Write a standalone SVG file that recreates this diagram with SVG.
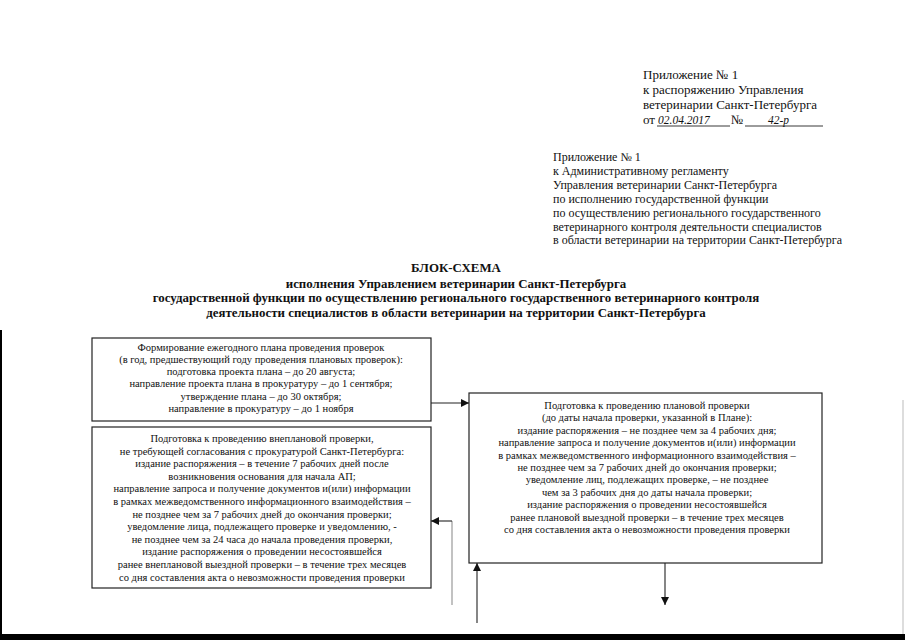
<svg xmlns="http://www.w3.org/2000/svg" width="905" height="640" viewBox="0 0 905 640">
<defs>
<style>
text{font-family:"Liberation Serif","Times New Roman",serif;fill:#111}
.h{font-size:13px}
.h2{font-size:12px}
.t{font-size:12.9px;font-weight:bold;text-anchor:middle}
.b{font-size:10.5px;text-anchor:middle}
.box{fill:#fff;stroke:#222;stroke-width:1.2}
.c{stroke:#222;stroke-width:1.1;fill:none}
.g{stroke:#999;stroke-width:1.2;fill:none}
.hw{font-family:"Liberation Serif",serif;font-style:italic;font-size:11.5px}
</style>
<marker id="ah" viewBox="0 0 10 10" refX="10" refY="5" markerWidth="8" markerHeight="8" markerUnits="userSpaceOnUse" orient="auto">
<path d="M0,0 L10,5 L0,10 z" fill="#111"/>
</marker>
</defs>
<rect width="905" height="640" fill="#fff"/>
<rect x="0" y="634" width="905" height="6" fill="#000"/>
<line x1="1" y1="330" x2="1" y2="640" stroke="#000" stroke-width="2"/>
<line x1="903" y1="400" x2="903" y2="634" stroke="#bbb" stroke-width="1"/>

<g id="header1">
<text class="h" x="643" y="79">Приложение № 1</text>
<text class="h" x="643" y="94">к распоряжению Управления</text>
<text class="h" x="643" y="109">ветеринарии Санкт-Петербурга</text>
<text class="h" x="643" y="124">от</text>
<text class="hw" x="658" y="124">02.04.2017</text>
<text class="h" x="731" y="124">№</text>
<text class="hw" x="768" y="124">42-р</text>
<line x1="657" y1="126" x2="730" y2="126" stroke="#222" stroke-width="0.9"/>
<line x1="745" y1="126" x2="823" y2="126" stroke="#222" stroke-width="0.9"/>
</g>

<g id="header2">
<text class="h2" x="553" y="161">Приложение № 1</text>
<text class="h2" x="553" y="175">к Административному регламенту</text>
<text class="h2" x="553" y="189">Управления ветеринарии Санкт-Петербурга</text>
<text class="h2" x="553" y="203">по исполнению государственной функции</text>
<text class="h2" x="553" y="217">по осуществлению регионального государственного</text>
<text class="h2" x="553" y="231">ветеринарного контроля деятельности специалистов</text>
<text class="h2" x="553" y="244">в области ветеринарии на территории Санкт-Петербурга</text>
</g>

<g id="title">
<text class="t" x="456" y="272">БЛОК-СХЕМА</text>
<text class="t" x="456" y="288">исполнения Управлением ветеринарии Санкт-Петербурга</text>
<text class="t" x="456" y="302">государственной функции по осуществлению регионального государственного ветеринарного контроля</text>
<text class="t" x="456" y="317">деятельности специалистов в области ветеринарии на территории Санкт-Петербурга</text>
</g>

<g id="connectors">
<line class="c" x1="431" y1="403" x2="469" y2="403" marker-end="url(#ah)"/>
<polyline class="g" points="452,605 452,521"/>
<line class="c" x1="452" y1="521" x2="431" y2="521" marker-end="url(#ah)"/>
<line class="c" x1="477" y1="623" x2="477" y2="563" marker-end="url(#ah)"/>
<line class="c" x1="665" y1="563" x2="665" y2="605" marker-end="url(#ah)"/>
</g>

<g id="node-plan">
<rect class="box" x="92" y="338" width="339" height="83"/>
<text class="b" x="261" y="351">Формирование ежегодного плана проведения проверок</text>
<text class="b" x="261" y="363">(в год, предшествующий году проведения плановых проверок):</text>
<text class="b" x="261" y="375">подготовка проекта плана – до 20 августа;</text>
<text class="b" x="261" y="387">направление проекта плана в прокуратуру – до 1 сентября;</text>
<text class="b" x="261" y="400">утверждение плана – до 30 октября;</text>
<text class="b" x="261" y="412">направление в прокуратуру – до 1 ноября</text>
</g>

<g id="node-unplanned">
<rect class="box" x="92" y="427" width="339" height="161"/>
<text class="b" x="262" y="442">Подготовка к проведению внеплановой проверки,</text>
<text class="b" x="262" y="454.6">не требующей согласования с прокуратурой Санкт-Петербурга:</text>
<text class="b" x="262" y="467.2">издание распоряжения – в течение 7 рабочих дней после</text>
<text class="b" x="262" y="479.8">возникновения основания для начала АП;</text>
<text class="b" x="262" y="492.4">направление запроса и получение документов и(или) информации</text>
<text class="b" x="262" y="505">в рамках межведомственного информационного взаимодействия –</text>
<text class="b" x="262" y="517.6">не позднее чем за 7 рабочих дней до окончания проверки;</text>
<text class="b" x="262" y="530.2">уведомление лица, подлежащего проверке и уведомлению, -</text>
<text class="b" x="262" y="542.8">не позднее чем за 24 часа до начала проведения проверки,</text>
<text class="b" x="262" y="555.4">издание распоряжения о проведении несостоявшейся</text>
<text class="b" x="262" y="568">ранее внеплановой выездной проверки – в течение трех месяцев</text>
<text class="b" x="262" y="580.6">со дня составления акта о невозможности проведения проверки</text>
</g>

<g id="node-planned">
<rect class="box" x="469" y="393" width="353" height="170"/>
<text class="b" x="647" y="409">Подготовка к проведению плановой проверки</text>
<text class="b" x="647" y="421.4">(до даты начала проверки, указанной в Плане):</text>
<text class="b" x="647" y="433.8">издание распоряжения – не позднее чем за 4 рабочих дня;</text>
<text class="b" x="647" y="446.2">направление запроса и получение документов и(или) информации</text>
<text class="b" x="647" y="458.6">в рамках межведомственного информационного взаимодействия –</text>
<text class="b" x="647" y="471">не позднее чем за 7 рабочих дней до окончания проверки;</text>
<text class="b" x="647" y="483.4">уведомление лиц, подлежащих проверке, – не позднее</text>
<text class="b" x="647" y="495.8">чем за 3 рабочих дня до даты начала проверки;</text>
<text class="b" x="647" y="508.2">издание распоряжения о проведении несостоявшейся</text>
<text class="b" x="647" y="520.6">ранее плановой выездной проверки – в течение трех месяцев</text>
<text class="b" x="647" y="533">со дня составления акта о невозможности проведения проверки</text>
</g>
</svg>
